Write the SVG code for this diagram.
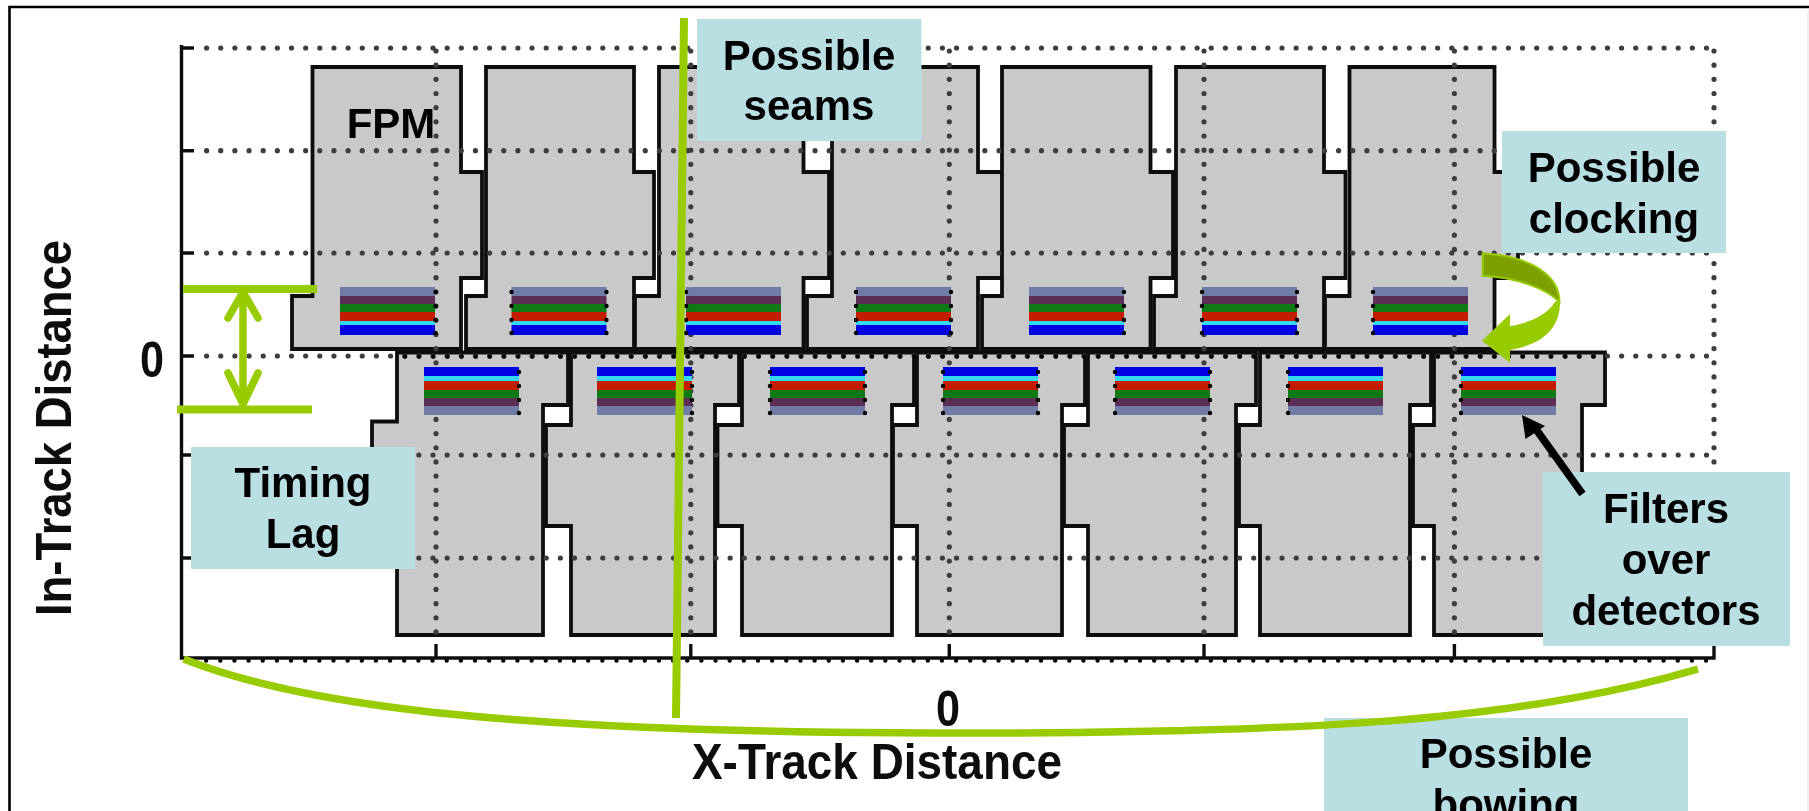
<svg xmlns="http://www.w3.org/2000/svg" width="1809" height="811" viewBox="0 0 1809 811">
<style>
.m{fill:#c9c9c9;stroke:#111;stroke-width:3.8;stroke-linejoin:miter}
.g{fill:none;stroke:#3c3c3c;stroke-width:5.2;stroke-linecap:round;stroke-dasharray:0 14.15}
.gv{fill:none;stroke:#3c3c3c;stroke-width:5.2;stroke-linecap:round;stroke-dasharray:0 14.17}
.k{fill:none;stroke:#000;stroke-width:4.4;stroke-linecap:round;stroke-dasharray:0 14.15}
.a{fill:none;stroke:#111;stroke-width:3.4}
.t{fill:none;stroke:#111;stroke-width:3.4}
.box{fill:#b9dfe3}
.lbl{font-family:"Liberation Sans",Arial,sans-serif;font-weight:700;font-size:42px;fill:#000;text-anchor:middle}
.ax{font-family:"Liberation Sans",Arial,sans-serif;font-weight:700;font-size:50px;fill:#0c0c0c}
.gl{fill:none;stroke:#99cc00;stroke-width:8}
.gh{fill:none;stroke:#99cc00;stroke-width:7.5;stroke-linecap:round;stroke-linejoin:round}
</style>
<defs>
<filter id="soft" x="-2%" y="-2%" width="104%" height="104%"><feGaussianBlur stdDeviation="0.55"/></filter>
<filter id="softT" x="-5%" y="-20%" width="110%" height="140%"><feGaussianBlur stdDeviation="0.7"/></filter>
<g id="fu">
<rect y="0" width="95" height="9" fill="#6f7ba5"/>
<rect y="9" width="95" height="8" fill="#5d2f55"/>
<rect y="17" width="95" height="8" fill="#0e7a18"/>
<rect y="25" width="95" height="9" fill="#c41a00"/>
<rect y="34" width="95" height="4" fill="#30d8f0"/>
<rect y="38" width="95" height="10" fill="#0000e0"/>
</g>
<g id="fl">
<rect y="0" width="95" height="9" fill="#0000e0"/>
<rect y="9" width="95" height="5" fill="#30d8f0"/>
<rect y="14" width="95" height="9" fill="#c41a00"/>
<rect y="23" width="95" height="8" fill="#0e7a18"/>
<rect y="31" width="95" height="8" fill="#5d2f55"/>
<rect y="39" width="95" height="9" fill="#6f7ba5"/>
</g>
<g id="dots" fill="#000"><circle cy="5" r="2.2"/><circle cy="19" r="2.2"/><circle cy="33" r="2.2"/><circle cy="46" r="2.2"/></g>
</defs>
<rect width="1809" height="811" fill="#fff"/>
<path d="M9.5,811V7H1809" fill="none" stroke="#000" stroke-width="2.6"/>
<path d="M1808,8V811" fill="none" stroke="#e2e2e2" stroke-width="1"/>
<g id="plot" filter="url(#soft)">
<g id="upper-modules">
<g id="fpm-u1"><path class="m" d="M312.5,67H461V172H482V278H461V349H292V296H312.5Z"/></g>
<g id="fpm-u2"><path class="m" d="M486,67H634V172H654V278H634V349H466V296H486Z"/></g>
<g id="fpm-u3"><path class="m" d="M659,67H803.5V172H829V278H803.5V349H635V296H659Z"/></g>
<g id="fpm-u4"><path class="m" d="M832,67H978V172H1002V278H978V349H807V296H832Z"/></g>
<g id="fpm-u5"><path class="m" d="M1002,67H1150.5V172H1173V278H1150.5V349H982V296H1002Z"/></g>
<g id="fpm-u6"><path class="m" d="M1176,67H1324V172H1345.5V278H1324V349H1154V296H1176Z"/></g>
<g id="fpm-u7"><path class="m" d="M1349.5,67H1494.5V172H1518V278H1494.5V349H1325V296H1349.5Z"/></g>
</g>
<g id="lower-modules">
<g id="fpm-l7"><path class="m" d="M1434,352.5V425H1413V526H1434V635H1582V405H1605V352.5Z"/></g>
<g id="fpm-l6"><path class="m" d="M1260,352.5V425H1239V526H1260V635H1410V405H1431V352.5Z"/></g>
<g id="fpm-l5"><path class="m" d="M1088,352.5V425H1064V526H1088V635H1236V405H1256V352.5Z"/></g>
<g id="fpm-l4"><path class="m" d="M917,352.5V425H893V526H917V635H1062V405H1085V352.5Z"/></g>
<g id="fpm-l3"><path class="m" d="M742,352.5V425H717.5V526H742V635H892V405H914V352.5Z"/></g>
<g id="fpm-l2"><path class="m" d="M571,352.5V425H546V526H571V635H715V405H739V352.5Z"/></g>
<g id="fpm-l1"><path class="m" d="M397,352.5V421.5H372V527H397V635H543V405H568V352.5Z"/></g>
</g>
<g id="grid">
<path class="g" d="M206.6,48H1714"/>
<path class="g" d="M206.6,150.7H1714"/>
<path class="g" d="M206.6,253H1714"/>
<path class="g" d="M206.6,356H1714"/>
<path class="g" d="M206.6,455H1714"/>
<path class="g" d="M206.6,558H1714"/>
<path class="gv" d="M436,51V638"/>
<path class="gv" d="M690.8,51V638"/>
<path class="gv" d="M949.3,51V638"/>
<path class="gv" d="M1204,51V638"/>
<path class="gv" d="M1454.4,51V638"/>
<path class="gv" d="M1714,51V640"/>
<path class="k" d="M405,356.5H1605"/>
<path class="k" d="M192,660.5H1710"/>
</g>
<g id="axes">
<path class="a" d="M181.5,45V658H1714V646"/>
<path class="t" d="M181,48H194M181,150.7H194M181,253H194M181,356H194M181,455H194M181,558H194"/>
<path class="t" d="M436,644V658M690.8,644V658M949.3,644V658M1204,644V658M1454.4,644V658"/>
</g>
<g id="filters">
<use href="#fu" x="340" y="287"/><use href="#fu" x="511.5" y="287"/><use href="#fu" x="686" y="287"/><use href="#fu" x="856" y="287"/><use href="#fu" x="1029" y="287"/><use href="#fu" x="1202" y="287"/><use href="#fu" x="1373" y="287"/>
<use href="#fl" x="424" y="367"/><use href="#fl" x="597" y="367"/><use href="#fl" x="770" y="367"/><use href="#fl" x="943" y="367"/><use href="#fl" x="1115" y="367"/><use href="#fl" x="1288" y="367"/><use href="#fl" x="1461" y="367"/>
<use href="#dots" x="435.5" y="287"/><use href="#dots" x="606.5" y="287"/><use href="#dots" x="511.5" y="287"/><use href="#dots" x="686" y="287"/><use href="#dots" x="856" y="287"/><use href="#dots" x="951" y="287"/><use href="#dots" x="1124" y="287"/><use href="#dots" x="1202" y="287"/><use href="#dots" x="1297" y="287"/><use href="#dots" x="1373" y="287"/>
<use href="#dots" x="519" y="367"/><use href="#dots" x="692" y="367"/><use href="#dots" x="865" y="367"/><use href="#dots" x="770" y="367"/><use href="#dots" x="943" y="367"/><use href="#dots" x="1038" y="367"/><use href="#dots" x="1115" y="367"/><use href="#dots" x="1210" y="367"/><use href="#dots" x="1288" y="367"/><use href="#dots" x="1461" y="367"/>
</g>
</g>
<g id="axis-labels" filter="url(#softT)">
<text class="ax" transform="translate(71,616) rotate(-90)" textLength="376" lengthAdjust="spacingAndGlyphs">In-Track Distance</text>
<text class="ax" x="692" y="779" textLength="370" lengthAdjust="spacingAndGlyphs">X-Track Distance</text>
<text class="ax" x="140" y="377" textLength="24" lengthAdjust="spacingAndGlyphs">0</text>
<text class="ax" x="936" y="726" textLength="24" lengthAdjust="spacingAndGlyphs">0</text>
</g>
<g id="fpm-label"><text class="lbl" x="391" y="138">FPM</text></g>
<g id="label-seams"><rect class="box" x="697" y="19" width="224.5" height="122"/><text class="lbl" x="809" y="70">Possible</text><text class="lbl" x="809" y="120">seams</text></g>
<g id="label-clocking"><rect class="box" x="1502" y="131" width="224" height="122"/><text class="lbl" x="1614" y="182">Possible</text><text class="lbl" x="1614" y="233">clocking</text></g>
<g id="label-timing"><rect class="box" x="191" y="447" width="224" height="122"/><text class="lbl" x="303" y="497">Timing</text><text class="lbl" x="303" y="548">Lag</text></g>
<g id="label-filters"><rect class="box" x="1543" y="472" width="247" height="174"/><text class="lbl" x="1666" y="523">Filters</text><text class="lbl" x="1666" y="574">over</text><text class="lbl" x="1666" y="625">detectors</text></g>
<g id="label-bowing"><rect class="box" x="1324" y="718" width="364" height="93"/><text class="lbl" x="1506" y="768">Possible</text><text class="lbl" x="1506" y="819">bowing</text></g>
<g id="connectors">
<path class="gl" d="M684,18L676,718"/>
<path class="gl" d="M183,289H317"/>
<path class="gl" d="M177,409.5H312"/>
<path class="gh" d="M243,294V403M228,318L243,292L258,318M228,373L243,404L258,373"/>
<path d="M183.7,659C300,705 500,733 957,733C1300,733 1520,722 1698,669" fill="none" stroke="#99cc00" stroke-width="7.5"/>
<g id="clocking-arrow">
<path d="M1560,300C1561,330 1540,345 1510,350V362.7L1482,340.7L1510,314V326C1530,323 1548,314 1555,301.7Z" fill="#99cc00"/>
<path d="M1482.7,253.3C1525,256 1559,272 1559.5,301.7C1545,288 1515,277 1482.7,276Z" fill="#7d9f00" stroke="#99cc00" stroke-width="2"/>
</g>
<path d="M1582.5,494L1533,425" fill="none" stroke="#000" stroke-width="7.5"/>
<path d="M1522,415L1545,426L1525.5,439Z" fill="#000"/>
</g>
</svg>
